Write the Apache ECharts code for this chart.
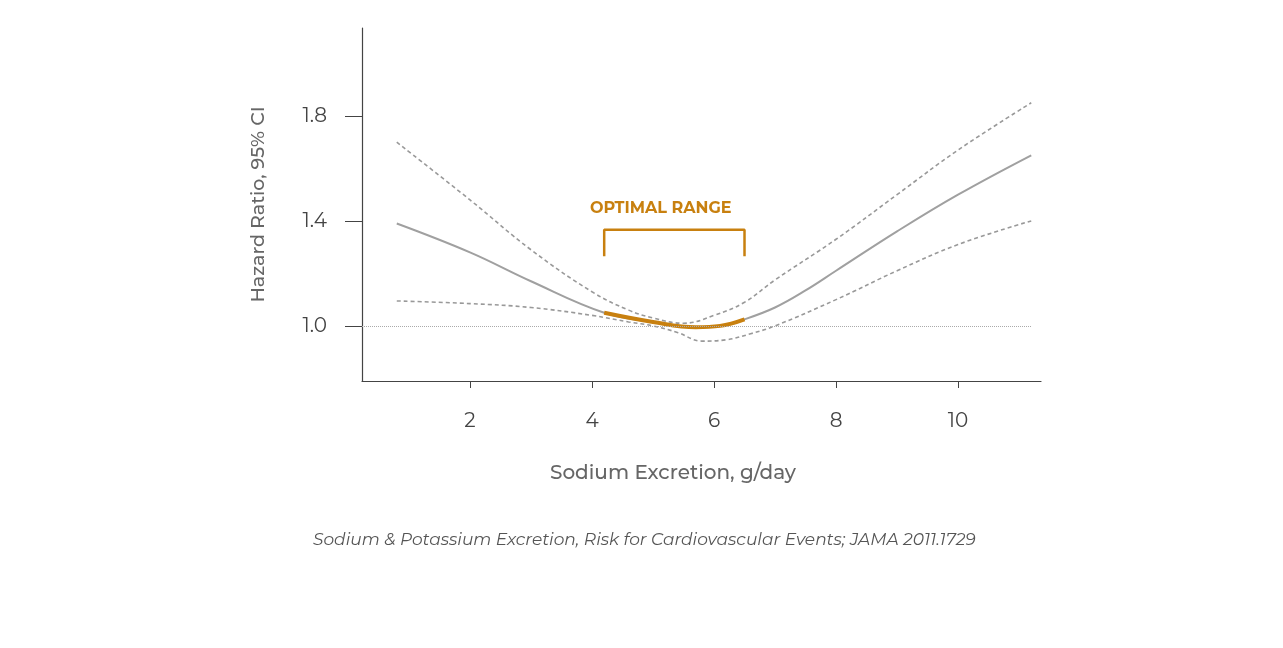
<!DOCTYPE html>
<html>
<head>
<meta charset="UTF-8">
<title>Sodium Excretion</title>
<script src="https://cdn.jsdelivr.net/npm/echarts@6/dist/echarts.min.js"></script>
<style>
  html, body { margin: 0; padding: 0; background: #fff; }
  #chart { width: 1283px; height: 648px; }
</style>
</head>
<body>
<div id="chart"></div>
<script>
// hazard ratio curves
var mainCurve = [[0.8,1.39],[2,1.28],[3,1.17],[4.2,1.05],[5,1.015],[5.7,0.995],[6.1,1.0],[6.5,1.025],[7,1.07],[7.5,1.135],[8,1.21],[9,1.36],[10,1.50],[11.2,1.65]];
var upperCI = [[0.8,1.70],[2,1.48],[3,1.29],[4,1.13],[4.6,1.06],[5,1.03],[5.5,1.01],[6,1.04],[6.5,1.09],[7,1.175],[8,1.33],[9,1.50],[10,1.67],[11.2,1.85]];
var lowerCI = [[0.8,1.095],[2,1.085],[3,1.07],[4,1.04],[4.6,1.015],[5,1.0],[5.4,0.975],[5.8,0.942],[6.2,0.947],[6.6,0.97],[7,1.0],[8,1.10],[9,1.21],[10,1.31],[11.2,1.40]];
var optimalCurve = [[4.2,1.05],[5,1.015],[5.7,0.995],[6.1,1.0],[6.5,1.025]];
var bracket = [[4.2,1.265],[4.2,1.366],[6.5,1.366],[6.5,1.265]];
var xTicks = [2,4,6,8,10];
var yTicks = [1.0,1.4,1.8];

var chart = echarts.init(document.getElementById('chart'));
var font = 'Montserrat, "Open Sans", sans-serif';
var dashed = { color: '#999', width: 1.6, type: [4, 3] };

chart.setOption({
    animation: false,
    grid: { left: 362, right: 242, top: 28, bottom: 267 },
    xAxis: {
        type: 'value', min: 0.23, max: 11.36,
        splitLine: { show: false },
        axisLine: { lineStyle: { color: '#444', width: 1.2 } },
        axisTick: { customValues: xTicks, length: 7, lineStyle: { color: '#444' } },
        axisLabel: { customValues: xTicks, margin: 30, fontSize: 20, color: '#444', fontFamily: font }
    },
    yAxis: {
        type: 'value', min: 0.79, max: 2.135,
        name: 'Hazard Ratio, 95% CI', nameLocation: 'middle', nameGap: 94,
        nameTextStyle: { color: '#666', fontSize: 19, fontFamily: font, fontWeight: 500 },
        splitLine: { show: false },
        axisLine: { show: true, lineStyle: { color: '#444', width: 1.2 } },
        axisTick: { show: true, customValues: yTicks, length: 17, lineStyle: { color: '#444' } },
        axisLabel: { customValues: yTicks, margin: 35, fontSize: 20, color: '#444', fontFamily: font,
            formatter: function (v) { return v.toFixed(1); } }
    },
    graphic: [
        { type: 'text', left: 590, top: 200, style: { text: 'OPTIMAL RANGE', fill: '#c8800f', fontSize: 16, fontWeight: 'bold', fontFamily: font, letterSpacing: 2.2 } },
        { type: 'text', left: 550, top: 463, style: { text: 'Sodium Excretion, g/day', fill: '#666', fontSize: 20, fontWeight: 500, fontFamily: font } },
        { type: 'text', left: 313, top: 531, style: { text: 'Sodium & Potassium Excretion, Risk for Cardiovascular Events; JAMA 2011.1729', fill: '#555', fontSize: 17, fontStyle: 'italic', fontFamily: font } }
    ],
    series: [
        { type: 'line', data: upperCI, smooth: 0.4, symbol: 'none', lineStyle: dashed },
        { type: 'line', data: lowerCI, smooth: 0.4, symbol: 'none', lineStyle: dashed },
        { type: 'line', data: mainCurve, smooth: 0.4, symbol: 'none', lineStyle: { color: '#a0a0a0', width: 2 },
          markLine: { symbol: 'none', silent: true, label: { show: false },
            lineStyle: { color: '#aaa', type: 'dotted', width: 1 },
            data: [[{ coord: [0.23, 1.0] }, { coord: [11.2, 1.0] }]] } },
        { type: 'line', data: optimalCurve, smooth: 0.4, symbol: 'none', lineStyle: { color: '#c8800f', width: 4 } },
        { type: 'line', data: bracket, symbol: 'none', lineStyle: { color: '#c8800f', width: 2.5 } }
    ]
});
</script>
</body>
</html>
